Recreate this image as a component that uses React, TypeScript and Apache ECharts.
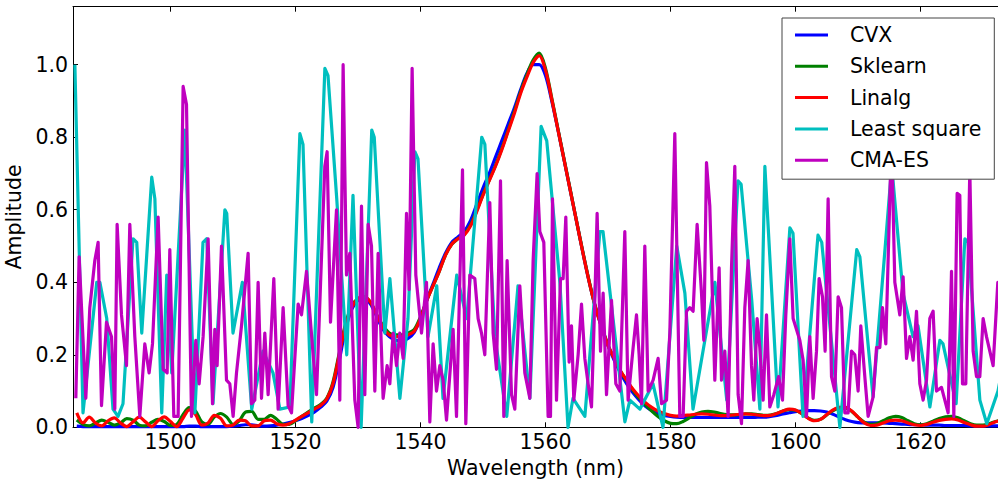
import React, { useEffect, useRef } from "react";
import * as echarts from "echarts";

const FONT = "DejaVu Sans";
const X_MIN = 1484.4;
const X_MAX = 1632.4;
const Y_MAX = 1.16;

const legendNames = ["CVX", "Sklearn", "Linalg", "Least square", "CMA-ES"];
const colors = ["#0000ff", "#008000", "#ff0000", "#00bfbf", "#bf00bf"];

// smooth solutions sampled every 1 nm starting at 1485 nm
const SMOOTH_START = 1485;
const cvx = [
  0.003, 0.002, 0.002, 0.002, 0.002, 0.002, 0.002, 0.002, 0.002, 0.002,
  0.002, 0.002, 0.002, 0.002, 0.002, 0.002, 0.002, 0.002, 0.003, 0.003,
  0.002, 0.002, 0.002, 0.002, 0.002, 0.003, 0.005, 0.007, 0.007, 0.004,
  0.003, 0.004, 0.006, 0.009, 0.013, 0.018, 0.024, 0.032, 0.042, 0.055,
  0.072, 0.110, 0.185, 0.270, 0.325, 0.350, 0.355, 0.340, 0.305, 0.270,
  0.250, 0.240, 0.238, 0.245, 0.262, 0.300, 0.350, 0.395, 0.440, 0.480,
  0.510, 0.525, 0.540, 0.570, 0.615, 0.660, 0.700, 0.745, 0.790, 0.835,
  0.880, 0.930, 0.975, 1.000, 1.000, 0.970, 0.900, 0.820, 0.735, 0.650,
  0.565, 0.480, 0.400, 0.330, 0.275, 0.225, 0.185, 0.150, 0.120, 0.095,
  0.075, 0.058, 0.046, 0.038, 0.033, 0.030, 0.028, 0.027, 0.027, 0.027,
  0.027, 0.027, 0.027, 0.027, 0.027, 0.027, 0.027, 0.027, 0.027, 0.028,
  0.028, 0.030, 0.033, 0.037, 0.040, 0.043, 0.045, 0.046, 0.046, 0.045,
  0.042, 0.036, 0.028, 0.021, 0.016, 0.013, 0.012, 0.012, 0.012, 0.012,
  0.011, 0.010, 0.009, 0.008, 0.007, 0.007, 0.006, 0.006, 0.006, 0.005,
  0.005, 0.005, 0.005, 0.004, 0.004, 0.004, 0.004, 0.004, 0.004,
];
const sklearn = [
  0.020, 0.008, 0.004, 0.012, 0.020, 0.014, 0.006, 0.012, 0.024, 0.020,
  0.006, 0.004, 0.014, 0.022, 0.016, 0.005, 0.008, 0.035, 0.054, 0.045,
  0.015, 0.008, 0.028, 0.038, 0.028, 0.008, 0.018, 0.042, 0.044, 0.022,
  0.022, 0.033, 0.022, 0.008, 0.008, 0.018, 0.030, 0.042, 0.053, 0.063,
  0.080, 0.125, 0.205, 0.285, 0.335, 0.355, 0.360, 0.345, 0.310, 0.280,
  0.260, 0.255, 0.255, 0.260, 0.270, 0.305, 0.350, 0.390, 0.430, 0.475,
  0.505, 0.520, 0.532, 0.558, 0.598, 0.642, 0.682, 0.722, 0.768, 0.818,
  0.870, 0.925, 0.972, 1.012, 1.032, 0.990, 0.908, 0.822, 0.737, 0.652,
  0.566, 0.482, 0.402, 0.332, 0.277, 0.227, 0.190, 0.155, 0.128, 0.102,
  0.080, 0.062, 0.045, 0.030, 0.018, 0.011, 0.010, 0.016, 0.026, 0.036,
  0.042, 0.044, 0.042, 0.038, 0.035, 0.034, 0.035, 0.037, 0.037, 0.035,
  0.033, 0.034, 0.038, 0.045, 0.049, 0.047, 0.038, 0.026, 0.019, 0.022,
  0.034, 0.046, 0.053, 0.053, 0.044, 0.028, 0.014, 0.008, 0.010, 0.018,
  0.026, 0.030, 0.027, 0.018, 0.010, 0.007, 0.010, 0.017, 0.024, 0.029,
  0.030, 0.026, 0.018, 0.010, 0.006, 0.006, 0.010, 0.016, 0.020,
];
const linalg = [
  0.040, 0.012, 0.028, 0.012, 0.004, 0.018, 0.026, 0.012, 0.002, 0.015,
  0.028, 0.015, 0.002, 0.018, 0.029, 0.016, 0.002, 0.025, 0.048, 0.035,
  0.006, 0.012, 0.033, 0.025, 0.004, 0.006, 0.020, 0.018, 0.004, 0.004,
  0.018, 0.020, 0.010, 0.006, 0.010, 0.020, 0.030, 0.040, 0.050, 0.060,
  0.078, 0.120, 0.200, 0.280, 0.330, 0.355, 0.360, 0.345, 0.310, 0.275,
  0.255, 0.250, 0.250, 0.255, 0.265, 0.300, 0.350, 0.390, 0.430, 0.475,
  0.505, 0.520, 0.530, 0.555, 0.595, 0.640, 0.680, 0.720, 0.765, 0.815,
  0.865, 0.920, 0.965, 1.005, 1.025, 0.985, 0.905, 0.820, 0.735, 0.650,
  0.565, 0.480, 0.400, 0.330, 0.275, 0.225, 0.190, 0.155, 0.130, 0.105,
  0.085, 0.068, 0.055, 0.045, 0.038, 0.033, 0.031, 0.032, 0.034, 0.036,
  0.037, 0.036, 0.034, 0.032, 0.032, 0.034, 0.036, 0.037, 0.036, 0.034,
  0.032, 0.033, 0.038, 0.045, 0.050, 0.048, 0.038, 0.025, 0.018, 0.022,
  0.035, 0.048, 0.055, 0.055, 0.045, 0.028, 0.012, 0.005, 0.006, 0.012,
  0.018, 0.020, 0.018, 0.012, 0.007, 0.005, 0.008, 0.014, 0.019, 0.022,
  0.023, 0.020, 0.013, 0.007, 0.003, 0.003, 0.008, 0.015, 0.020,
];

// [wavelength, amplitude]
const leastSquare = [
  [1484.7, 1.0], [1486.0, 0.04], [1488.2, 0.4], [1488.7, 0.4], [1489.8, 0.3], [1490.8, 0.05],
  [1491.6, 0.03], [1492.4, 0.065], [1494.0, 0.52], [1494.6, 0.51], [1495.4, 0.26], [1497.0, 0.69],
  [1497.5, 0.63], [1498.6, 0.04], [1499.4, 0.42], [1500.2, 0.15], [1502.3, 0.82], [1503.9, 0.04],
  [1505.2, 0.51], [1505.8, 0.52], [1506.8, 0.065], [1508.7, 0.6], [1509.0, 0.59], [1510.0, 0.26],
  [1511.5, 0.4], [1513.0, 0.05], [1514.8, 0.21], [1516.4, 0.15], [1517.5, 0.05], [1519.1, 0.056],
  [1520.7, 0.81], [1521.2, 0.78], [1522.6, 0.015], [1524.7, 0.99], [1525.2, 0.97], [1526.6, 0.63],
  [1528.2, 0.2], [1529.2, 0.64], [1530.5, 0.0], [1532.2, 0.82], [1532.6, 0.8], [1534.3, 0.26],
  [1535.1, 0.41], [1536.7, 0.08], [1538.0, 0.3], [1539.1, 0.76], [1539.6, 0.74], [1541.2, 0.25],
  [1542.6, 0.39], [1543.6, 0.08], [1545.8, 0.42], [1547.4, 0.3], [1549.8, 0.8], [1550.3, 0.78],
  [1551.9, 0.25], [1553.8, 0.03], [1555.6, 0.39], [1557.5, 0.08], [1559.3, 0.83], [1560.2, 0.79],
  [1562.3, 0.4], [1563.6, 0.0], [1564.4, 0.08], [1566.3, 0.03], [1568.7, 0.54], [1569.2, 0.54],
  [1570.8, 0.3], [1572.7, 0.015], [1573.5, 0.075], [1575.1, 0.05], [1577.2, 0.12], [1578.8, 0.0],
  [1581.0, 0.5], [1582.3, 0.37], [1583.6, 0.05], [1585.5, 0.24], [1587.1, 0.4], [1589.0, 0.075],
  [1590.8, 0.68], [1591.3, 0.67], [1593.0, 0.35], [1594.3, 0.05], [1595.1, 0.72], [1597.2, 0.056],
  [1599.1, 0.55], [1599.6, 0.535], [1601.2, 0.03], [1603.6, 0.53], [1604.2, 0.51], [1607.1, 0.0],
  [1609.8, 0.49], [1610.3, 0.47], [1612.4, 0.084], [1615.4, 0.72], [1617.2, 0.37], [1618.8, 0.25],
  [1619.6, 0.28], [1621.5, 0.056], [1623.1, 0.24], [1623.6, 0.23], [1625.7, 0.065], [1627.1, 0.52],
  [1627.6, 0.51], [1629.5, 0.075], [1630.6, 0.01], [1632.4, 0.1], [1633.5, 0.2],
];

const cmaEs = [
  [1484.85, 0.08], [1485.38, 0.47], [1486.45, 0.08], [1487.09, 0.33], [1487.89, 0.46], [1488.42, 0.51],
  [1488.96, 0.06], [1489.76, 0.29], [1490.56, 0.25], [1491.09, 0.05], [1491.46, 0.56], [1492.16, 0.31],
  [1492.96, 0.17], [1493.49, 0.56], [1494.29, 0.25], [1495.09, 0.03], [1495.89, 0.23], [1496.58, 0.15],
  [1497.12, 0.23], [1498.02, 0.58], [1498.82, 0.16], [1499.46, 0.15], [1499.89, 0.49], [1500.53, 0.03],
  [1501.22, 0.03], [1502.02, 0.94], [1502.56, 0.89], [1503.36, 0.03], [1504.05, 0.24], [1504.58, 0.12],
  [1505.22, 0.25], [1506.02, 0.52], [1506.72, 0.065], [1507.09, 0.27], [1507.46, 0.17], [1508.16, 0.5],
  [1508.96, 0.13], [1509.49, 0.12], [1510.02, 0.03], [1510.56, 0.15], [1511.36, 0.28], [1512.42, 0.48],
  [1512.96, 0.065], [1513.49, 0.075], [1514.02, 0.4], [1514.56, 0.08], [1515.09, 0.26], [1515.62, 0.09],
  [1516.53, 0.41], [1517.22, 0.05], [1518.02, 0.33], [1518.82, 0.06], [1519.36, 0.04], [1520.42, 0.34],
  [1520.96, 0.31], [1521.76, 0.43], [1522.82, 0.2], [1523.36, 0.09], [1524.69, 0.72], [1525.06, 0.76],
  [1525.6, 0.29], [1526.56, 0.6], [1527.09, 0.075], [1527.62, 1.0], [1528.16, 0.42], [1528.69, 0.48],
  [1529.49, 0.075], [1530.02, 0.0], [1530.56, 0.61], [1531.09, 0.09], [1531.62, 0.56], [1532.16, 0.5],
  [1532.69, 0.1], [1533.22, 0.48], [1534.02, 0.08], [1534.66, 0.17], [1535.09, 0.12], [1535.62, 0.26],
  [1536.16, 0.17], [1536.69, 0.26], [1537.22, 0.19], [1537.76, 0.59], [1538.18, 0.38], [1538.66, 0.99],
  [1539.25, 0.42], [1540.16, 0.26], [1540.96, 0.4], [1541.49, 0.015], [1542.02, 0.23], [1542.56, 0.1],
  [1543.09, 0.17], [1543.62, 0.13], [1544.16, 0.02], [1545.22, 0.27], [1545.76, 0.03], [1546.72, 0.71],
  [1547.25, 0.01], [1547.89, 0.42], [1548.69, 0.41], [1549.22, 0.3], [1549.76, 0.26], [1550.29, 0.2],
  [1551.09, 0.62], [1551.62, 0.26], [1552.16, 0.16], [1552.8, 0.68], [1553.33, 0.03], [1553.86, 0.46],
  [1554.56, 0.09], [1555.09, 0.05], [1555.89, 0.39], [1556.69, 0.15], [1557.49, 0.08], [1558.02, 0.46],
  [1558.66, 0.7], [1559.09, 0.54], [1559.73, 0.51], [1560.42, 0.03], [1560.8, 0.03], [1561.12, 0.63],
  [1561.76, 0.075], [1562.4, 0.41], [1562.82, 0.41], [1563.25, 0.58], [1563.78, 0.18], [1564.16, 0.28],
  [1564.53, 0.075], [1565.22, 0.2], [1565.76, 0.34], [1566.29, 0.19], [1566.82, 0.12], [1567.36, 0.056],
  [1567.89, 0.35], [1568.26, 0.59], [1568.8, 0.21], [1569.22, 0.37], [1569.76, 0.09], [1570.56, 0.35],
  [1571.25, 0.12], [1571.89, 0.1], [1572.69, 0.54], [1573.22, 0.075], [1574.02, 0.22], [1574.56, 0.31],
  [1574.98, 0.2], [1575.36, 0.065], [1575.89, 0.5], [1576.42, 0.1], [1577.22, 0.13], [1578.02, 0.19],
  [1578.56, 0.065], [1579.36, 0.075], [1579.89, 0.26], [1580.69, 0.81], [1581.49, 0.03], [1582.02, 0.03],
  [1582.56, 0.32], [1583.09, 0.33], [1583.62, 0.32], [1584.26, 0.56], [1584.96, 0.37], [1585.33, 0.24],
  [1585.76, 0.73], [1586.29, 0.61], [1587.09, 0.13], [1587.78, 0.44], [1588.16, 0.13], [1588.69, 0.21],
  [1589.22, 0.03], [1589.76, 0.44], [1590.29, 0.72], [1590.82, 0.09], [1591.36, 0.01], [1591.89, 0.33],
  [1592.42, 0.46], [1592.96, 0.17], [1593.33, 0.075], [1593.86, 0.3], [1594.29, 0.22], [1594.82, 0.075],
  [1595.36, 0.31], [1595.89, 0.056], [1596.53, 0.09], [1597.3, 0.14], [1597.92, 0.075], [1598.45, 0.31],
  [1599.09, 0.52], [1599.62, 0.3], [1600.69, 0.24], [1601.22, 0.185], [1601.76, 0.03], [1602.29, 0.25],
  [1602.82, 0.08], [1603.36, 0.21], [1603.78, 0.41], [1604.32, 0.36], [1604.74, 0.21], [1605.22, 0.63],
  [1605.76, 0.14], [1606.29, 0.1], [1606.82, 0.36], [1607.36, 0.33], [1607.89, 0.04], [1608.42, 0.04],
  [1608.96, 0.21], [1609.49, 0.2], [1610.02, 0.1], [1610.45, 0.28], [1611.09, 0.14], [1611.62, 0.03],
  [1612.42, 0.084], [1612.96, 0.22], [1613.49, 0.22], [1613.92, 0.33], [1614.45, 0.23], [1615.36, 0.8],
  [1615.89, 0.4], [1616.69, 0.31], [1617.22, 0.415], [1617.76, 0.19], [1618.29, 0.25], [1618.82, 0.185],
  [1619.36, 0.32], [1619.89, 0.12], [1620.42, 0.075], [1620.96, 0.13], [1621.49, 0.3], [1622.02, 0.32],
  [1622.56, 0.1], [1623.36, 0.11], [1623.89, 0.075], [1624.42, 0.04], [1624.96, 0.43], [1625.33, 0.03],
  [1625.86, 0.645], [1626.29, 0.64], [1626.72, 0.12], [1627.25, 0.12], [1627.89, 0.71], [1628.42, 0.21],
  [1628.96, 0.14], [1629.49, 0.14], [1630.02, 0.3], [1630.56, 0.25], [1631.09, 0.21], [1631.62, 0.17],
  [1632.37, 0.4], [1633.0, 0.35],
];

const yTickFormat = (v: number) => v.toFixed(1);
const xTickFormat = (v: number) => (Math.abs(v % 20) < 1e-6 ? String(v) : "");

export default function App() {
  const ref = useRef<HTMLDivElement>(null);

  useEffect(() => {
    if (!ref.current) return;
    const chart = echarts.init(ref.current, undefined, { renderer: "svg" });
    const toSmooth = (arr: number[]) => arr.map((v, i) => [SMOOTH_START + i, v]);
    const seriesData = [toSmooth(cvx), toSmooth(sklearn), toSmooth(linalg), leastSquare, cmaEs];
    const labelStyle = { fontFamily: FONT, fontSize: 20.5, color: "#000" };
    const axisLine = { show: true, onZero: false, lineStyle: { color: "#000", width: 1 } };
    const axisTick = { show: true, inside: true, length: 5, lineStyle: { color: "#000", width: 1 } };

    chart.setOption({
      animation: false,
      backgroundColor: "#fff",
      textStyle: { fontFamily: FONT },
      grid: {
        left: 73,
        right: 0,
        top: 6.7,
        bottom: 51.7,
        containLabel: false,
        outerBoundsMode: "none",
        show: false,
      },
      xAxis: [
        {
          type: "value",
          min: X_MIN,
          max: X_MAX,
          splitNumber: 7,
          position: "bottom",
          name: "Wavelength (nm)",
          nameLocation: "middle",
          nameGap: 26,
          nameTextStyle: labelStyle,
          axisLine,
          axisTick,
          axisLabel: { ...labelStyle, margin: 4, formatter: xTickFormat, showMinLabel: false, showMaxLabel: false },
          splitLine: { show: false },
        },
        {
          type: "value",
          min: X_MIN,
          max: X_MAX,
          splitNumber: 7,
          position: "top",
          axisLine,
          axisTick,
          axisLabel: { show: false },
          splitLine: { show: false },
        },
      ],
      yAxis: [
        {
          type: "value",
          min: 0,
          max: Y_MAX,
          interval: 0.2,
          name: "Amplitude",
          nameLocation: "middle",
          nameGap: 38,
          nameTextStyle: labelStyle,
          axisLine,
          axisTick,
          axisLabel: { ...labelStyle, margin: 5, formatter: yTickFormat, showMaxLabel: false },
          splitLine: { show: false },
        },
      ],
      legend: {
        data: legendNames,
        orient: "vertical",
        left: 782,
        top: 18,
        padding: [5, 13, 7, 13],
        itemGap: 7.3,
        itemWidth: 33,
        itemHeight: 3,
        icon: "rect",
        selectedMode: false,
        backgroundColor: "#fff",
        borderColor: "#444",
        borderWidth: 1,
        borderRadius: 0,
        textStyle: { ...labelStyle, lineHeight: 24, padding: [0, 0, 0, 17] },
      },
      series: legendNames.map((name, i) => ({
        name,
        type: "line",
        data: seriesData[i],
        xAxisIndex: 0,
        yAxisIndex: 0,
        showSymbol: false,
        symbol: "none",
        smooth: i < 3 ? 0.3 : false,
        color: colors[i],
        itemStyle: { color: colors[i] },
        lineStyle: { color: colors[i], width: 3.2, join: "round" },
        emphasis: { disabled: true },
        silent: true,
      })),
    });
    return () => chart.dispose();
  }, []);

  return (
    <div
      ref={ref}
      style={{ position: "absolute", left: 0, top: 0, width: 998, height: 479, background: "#fff" }}
    />
  );
}
